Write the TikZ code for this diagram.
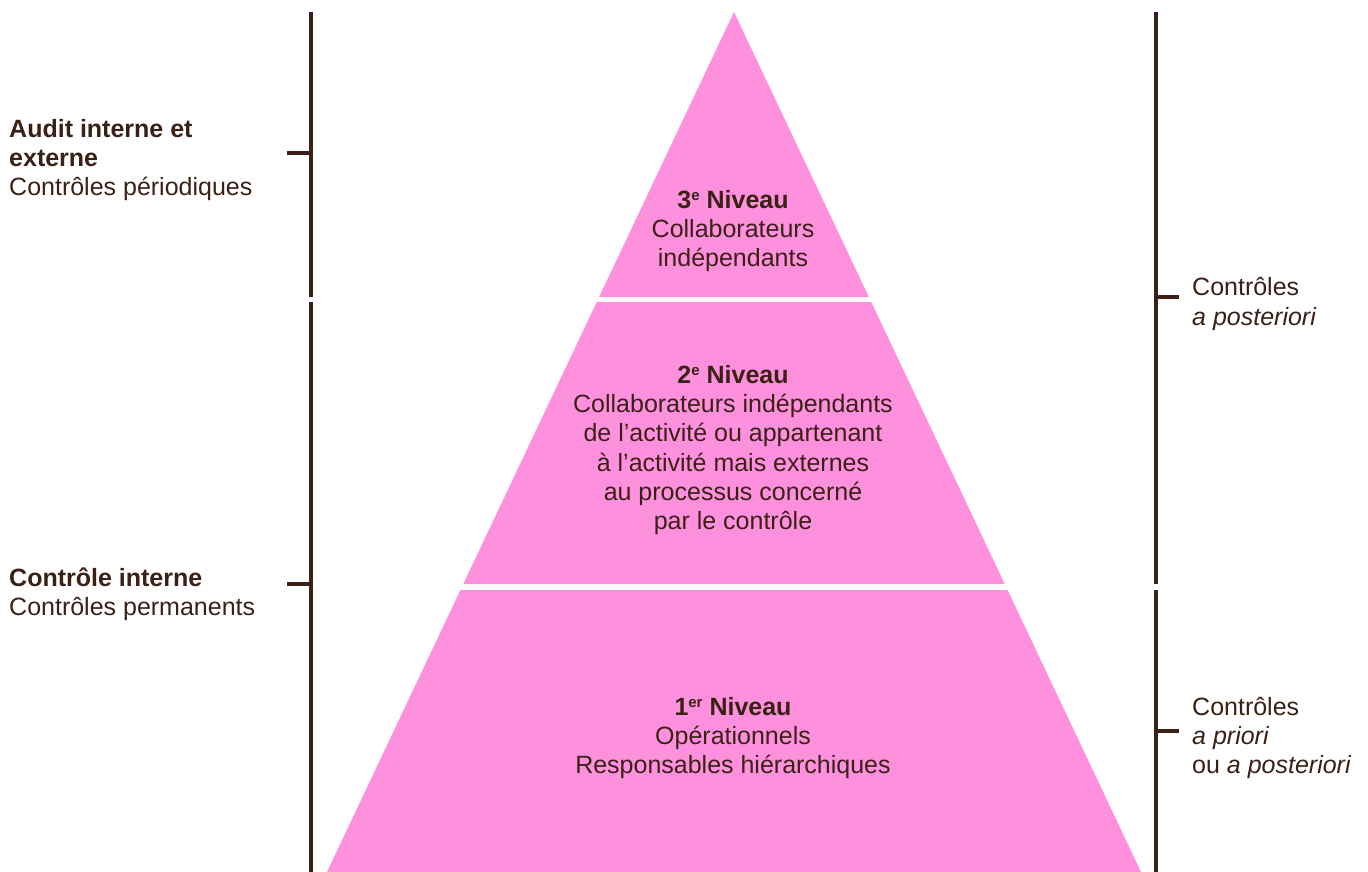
\documentclass[tikz,border=0pt]{standalone}
\usepackage{fontspec}
\setmainfont{Liberation Sans}
\definecolor{brun}{HTML}{3B2016}
\definecolor{rose}{HTML}{FF90DD}
\tikzset{
  trait/.style={draw=brun, line width=3.2pt},
  etiq/.style={text=brun, font=\fontsize{25}{29.3}\selectfont, inner sep=0pt},
}
\newcommand{\expo}[1]{\raisebox{0.55ex}{\fontsize{15}{15}\selectfont #1}}
\begin{document}
\begin{tikzpicture}[x=1pt, y=-1pt, line join=round]
	\useasboundingbox (0,0) rectangle (1368,872);
	\def\sx{734}\def\sy{12}\def\pente{0.4733}
	% pyramide
	\fill[rose] (\sx,\sy) -- ({\sx+\pente*(297-\sy)},297) -- ({\sx-\pente*(297-\sy)},297) -- cycle;
	\foreach \ya/\yb in {302/584,590/872}
		\fill[rose] ({\sx-\pente*(\ya-\sy)},\ya) -- ({\sx+\pente*(\ya-\sy)},\ya)
			-- ({\sx+\pente*(\yb-\sy)},\yb) -- ({\sx-\pente*(\yb-\sy)},\yb) -- cycle;
	% accolades
	\draw[trait] (311,12) -- (311,297) (311,302) -- (311,872);
	\draw[trait] (287,153) -- (311,153) (287,584) -- (311,584);
	\draw[trait] (1156,12) -- (1156,584) (1156,590) -- (1156,872);
	\draw[trait] (1156,297) -- (1179,297) (1156,731) -- (1179,731);
	% niveaux
	\node[etiq, align=center] (niv3) at (733,231) {\textbf{3\expo{e} Niveau}\\Collaborateurs\\indépendants};
	\node[etiq, align=center] (niv2) at (733,450) {\textbf{2\expo{e} Niveau}\\Collaborateurs indépendants\\de l’activité ou appartenant\\à l’activité mais externes\\au processus concerné\\par le contrôle};
	\node[etiq, align=center] (niv1) at (733,738) {\textbf{1\expo{er} Niveau}\\Opérationnels\\Responsables hiérarchiques};
	% gauche
	\node[etiq, anchor=west, align=left] (audit) at (9,160) {\textbf{Audit interne et}\\\textbf{externe}\\Contrôles périodiques};
	\node[etiq, anchor=west, align=left] (interne) at (9,594) {\textbf{Contrôle interne}\\Contrôles permanents};
	% droite
	\node[etiq, anchor=west, align=left] (poster) at (1192,304) {Contrôles\\\textit{a posteriori}};
	\node[etiq, anchor=west, align=left] (prior) at (1192,738) {Contrôles\\\textit{a priori}\\ou \textit{a posteriori}};
\end{tikzpicture}
\end{document}
